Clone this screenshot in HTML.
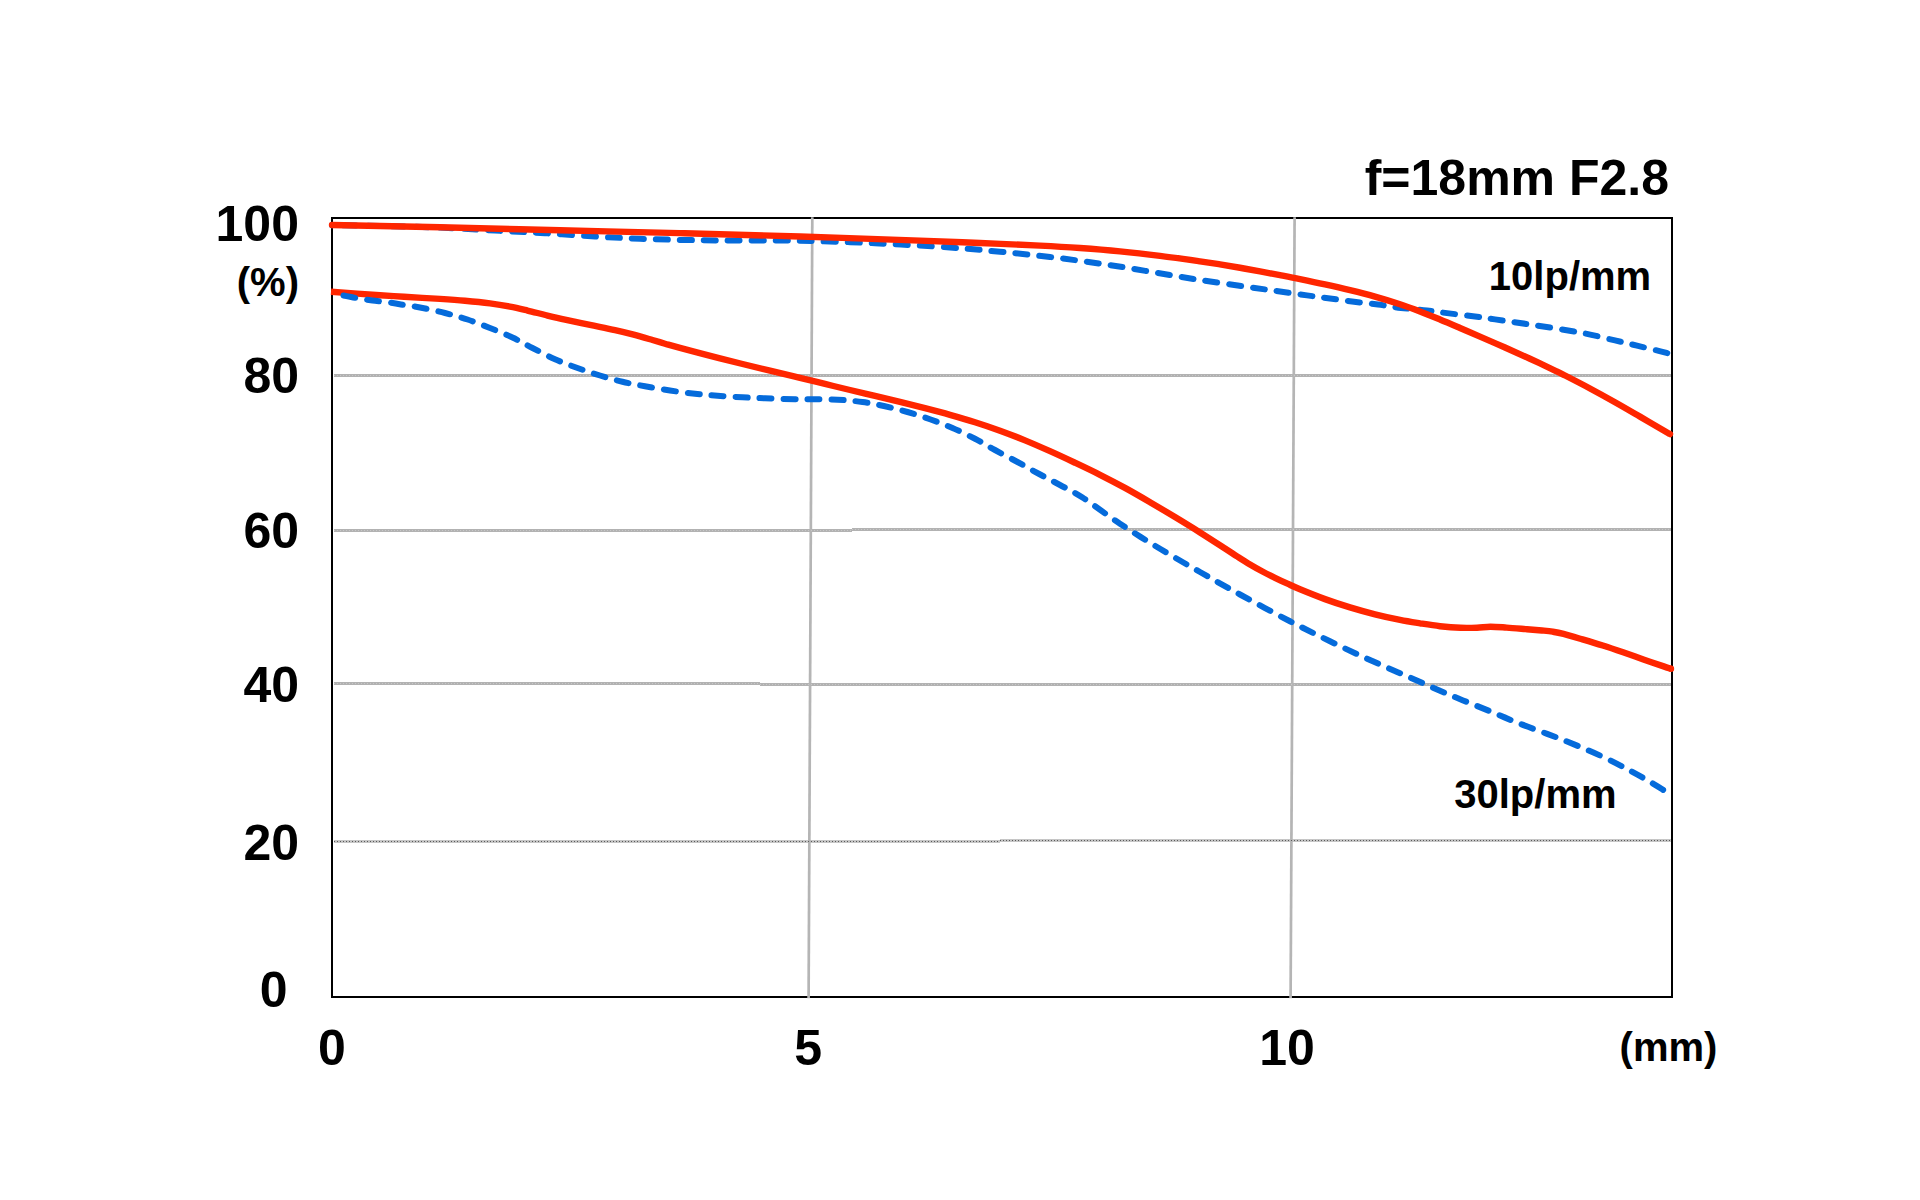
<!DOCTYPE html>
<html lang="en">
<head>
<meta charset="utf-8">
<title>MTF chart f=18mm F2.8</title>
<style>
html,body{margin:0;padding:0;background:#fff;}
body{width:1920px;height:1200px;overflow:hidden;}
svg{display:block;}
text{font-family:"Liberation Sans",Arial,Helvetica,sans-serif;font-weight:bold;fill:#000;}
.grid line{stroke:#b2b2b2;stroke-width:3;}
.dots line{stroke:#c8c8c8;stroke-width:1;stroke-dasharray:1 2;}
.curve path{fill:none;stroke-linecap:round;stroke-linejoin:round;}
.red{stroke:#ff2600;stroke-width:6.4;}
.blue{stroke:#056bdb;stroke-width:6;stroke-dasharray:12 12;}
</style>
</head>
<body>
<svg width="1920" height="1200" viewBox="0 0 1920 1200">
<rect x="0" y="0" width="1920" height="1200" fill="#ffffff"/>
<rect x="332" y="218" width="1340" height="779" fill="none" stroke="#000" stroke-width="2"/>
<g class="grid">
<line x1="334" y1="375.5" x2="1671" y2="375.5"/>
<line x1="334" y1="530.5" x2="852" y2="530.5"/>
<line x1="852" y1="529.5" x2="1671" y2="529.5"/>
<line x1="334" y1="683.5" x2="760" y2="683.5"/>
<line x1="760" y1="684.5" x2="1671" y2="684.5"/>
<line x1="334" y1="841.5" x2="1000" y2="841.5" style="stroke:#c6c6c6"/>
<line x1="1000" y1="840.5" x2="1671" y2="840.5" style="stroke:#c6c6c6"/>
<line x1="812.3" y1="217.3" x2="808.6" y2="998.3" style="stroke-width:2.7;stroke:#b5b5b5"/>
<line x1="1294.6" y1="217.3" x2="1290.6" y2="998.3" style="stroke-width:2.7;stroke:#b5b5b5"/>
</g>
<g class="dots">
<line x1="334" y1="375.5" x2="1671" y2="375.5"/>
<line x1="334" y1="530.5" x2="852" y2="530.5"/>
<line x1="852" y1="529.5" x2="1671" y2="529.5"/>
<line x1="334" y1="683.5" x2="760" y2="683.5"/>
<line x1="760" y1="684.5" x2="1671" y2="684.5"/>
<line x1="334" y1="841.5" x2="1000" y2="841.5" style="stroke:#5a5a5a"/>
<line x1="1000" y1="840.5" x2="1671" y2="840.5" style="stroke:#5a5a5a"/>
</g>
<g class="curve">
<path class="blue" stroke-dashoffset="11.83" d="M332.00,225.20C340.00,225.33 362.00,225.60 380.00,226.00C398.00,226.40 420.83,226.83 440.00,227.60C459.17,228.37 477.50,229.67 495.00,230.60C512.50,231.53 528.33,232.22 545.00,233.20C561.67,234.18 579.17,235.57 595.00,236.50C610.83,237.43 625.00,238.17 640.00,238.75C655.00,239.33 670.00,239.71 685.00,240.00C700.00,240.29 710.83,240.38 730.00,240.50C749.17,240.62 775.83,240.29 800.00,240.75C824.17,241.21 850.00,242.12 875.00,243.25C900.00,244.38 929.17,246.08 950.00,247.50C970.83,248.92 983.33,250.17 1000.00,251.75C1016.67,253.33 1033.33,255.03 1050.00,257.00C1066.67,258.98 1083.33,261.17 1100.00,263.60C1116.67,266.03 1133.33,268.87 1150.00,271.60C1166.67,274.33 1183.33,277.38 1200.00,280.00C1216.67,282.62 1236.67,285.38 1250.00,287.30C1263.33,289.22 1270.50,290.15 1280.00,291.50C1289.50,292.85 1298.67,294.23 1307.00,295.40C1315.33,296.57 1322.17,297.45 1330.00,298.50C1337.83,299.55 1346.00,300.68 1354.00,301.70C1362.00,302.72 1370.17,303.57 1378.00,304.60C1385.83,305.63 1392.83,306.92 1401.00,307.90C1409.17,308.88 1419.00,309.58 1427.00,310.50C1435.00,311.42 1441.33,312.44 1449.00,313.40C1456.67,314.36 1465.33,315.25 1473.00,316.25C1480.67,317.25 1485.50,318.02 1495.00,319.40C1504.50,320.77 1515.83,322.32 1530.00,324.50C1544.17,326.68 1565.83,329.85 1580.00,332.50C1594.17,335.15 1605.33,338.17 1615.00,340.40C1624.67,342.63 1630.25,344.03 1638.00,345.90C1645.75,347.77 1656.62,350.40 1661.50,351.60C1666.38,352.80 1666.33,352.85 1667.30,353.10"/>
<path class="red" d="M332.00,225.00C350.00,225.38 402.00,226.43 440.00,227.30C478.00,228.18 520.00,229.28 560.00,230.25C600.00,231.22 640.00,232.10 680.00,233.12C720.00,234.15 760.00,235.17 800.00,236.43C840.00,237.68 890.00,239.56 920.00,240.65C950.00,241.74 960.00,242.14 980.00,242.98C1000.00,243.81 1023.33,244.80 1040.00,245.65C1056.67,246.50 1066.67,247.10 1080.00,248.05C1093.33,249.00 1106.67,250.07 1120.00,251.38C1133.33,252.68 1146.67,254.20 1160.00,255.85C1173.33,257.50 1190.00,259.88 1200.00,261.30C1210.00,262.72 1213.33,263.30 1220.00,264.38C1226.67,265.45 1233.33,266.60 1240.00,267.77C1246.67,268.95 1253.33,270.17 1260.00,271.40C1266.67,272.63 1273.33,273.87 1280.00,275.15C1286.67,276.43 1292.50,277.53 1300.00,279.07C1307.50,280.61 1316.67,282.52 1325.00,284.38C1333.33,286.23 1341.67,288.13 1350.00,290.18C1358.33,292.22 1366.67,294.30 1375.00,296.65C1383.33,299.00 1392.50,301.79 1400.00,304.25C1407.50,306.72 1413.33,308.91 1420.00,311.45C1426.67,313.99 1433.33,316.74 1440.00,319.49C1446.67,322.24 1453.33,325.10 1460.00,327.95C1466.67,330.80 1472.50,333.33 1480.00,336.58C1487.50,339.84 1496.67,343.80 1505.00,347.50C1513.33,351.20 1521.67,354.93 1530.00,358.77C1538.33,362.62 1549.17,367.77 1555.00,370.55C1560.83,373.33 1559.17,372.50 1565.00,375.48C1570.83,378.46 1581.67,384.00 1590.00,388.45C1598.33,392.90 1606.67,397.51 1615.00,402.20C1623.33,406.89 1631.67,411.78 1640.00,416.61C1648.33,421.45 1660.00,428.30 1665.00,431.22C1670.00,434.13 1669.17,433.62 1670.00,434.10"/>
<path class="red" style="stroke-linecap:butt" d="M331.00,291.70C339.17,292.29 367.83,294.40 380.00,295.25C392.17,296.09 394.00,296.18 404.00,296.79C414.00,297.40 429.83,298.25 440.00,298.92C450.17,299.58 456.67,300.01 465.00,300.76C473.33,301.51 482.50,302.44 490.00,303.42C497.50,304.40 503.75,305.44 510.00,306.62C516.25,307.81 521.46,309.10 527.50,310.53C533.54,311.97 540.00,313.72 546.25,315.24C552.50,316.75 557.71,318.02 565.00,319.63C572.29,321.25 581.67,323.18 590.00,324.94C598.33,326.70 607.71,328.56 615.00,330.19C622.29,331.81 627.50,333.06 633.75,334.70C640.00,336.34 647.29,338.50 652.50,340.00C657.71,341.51 660.42,342.39 665.00,343.72C669.58,345.04 670.83,345.51 680.00,347.96C689.17,350.42 705.00,354.66 720.00,358.44C735.00,362.23 756.67,367.43 770.00,370.66C783.33,373.89 790.83,375.61 800.00,377.83C809.17,380.04 816.67,381.92 825.00,383.95C833.33,385.98 841.67,388.00 850.00,390.00C858.33,392.00 866.67,393.93 875.00,395.92C883.33,397.92 891.67,399.91 900.00,401.95C908.33,403.99 916.67,406.03 925.00,408.18C933.33,410.32 941.67,412.47 950.00,414.80C958.33,417.13 966.67,419.53 975.00,422.18C983.33,424.82 991.67,427.62 1000.00,430.65C1008.33,433.68 1016.67,436.93 1025.00,440.35C1033.33,443.77 1041.67,447.44 1050.00,451.18C1058.33,454.91 1066.67,458.81 1075.00,462.75C1083.33,466.69 1091.67,470.63 1100.00,474.83C1108.33,479.02 1116.67,483.36 1125.00,487.93C1133.33,492.49 1141.67,497.35 1150.00,502.20C1158.33,507.05 1166.67,512.01 1175.00,517.05C1183.33,522.09 1191.67,527.19 1200.00,532.42C1208.33,537.66 1218.75,544.43 1225.00,548.47C1231.25,552.50 1233.33,553.98 1237.50,556.65C1241.67,559.32 1245.83,562.00 1250.00,564.48C1254.17,566.95 1258.33,569.28 1262.50,571.50C1266.67,573.72 1270.83,575.77 1275.00,577.80C1279.17,579.83 1283.33,581.79 1287.50,583.70C1291.67,585.61 1293.75,586.70 1300.00,589.27C1306.25,591.84 1316.67,596.10 1325.00,599.12C1333.33,602.15 1341.67,604.88 1350.00,607.43C1358.33,609.97 1366.67,612.28 1375.00,614.38C1383.33,616.47 1392.50,618.47 1400.00,619.97C1407.50,621.46 1413.33,622.31 1420.00,623.35C1426.67,624.39 1433.23,625.46 1440.00,626.20C1446.77,626.94 1454.43,627.55 1460.60,627.80C1466.77,628.05 1472.03,627.88 1477.00,627.70C1481.97,627.52 1485.45,626.72 1490.40,626.70C1495.35,626.68 1500.83,627.20 1506.70,627.60C1512.57,628.00 1519.72,628.62 1525.60,629.10C1531.48,629.58 1537.48,630.07 1542.00,630.50C1546.52,630.93 1549.12,631.13 1552.70,631.70C1556.28,632.27 1558.53,632.62 1563.50,633.90C1568.47,635.18 1575.95,637.44 1582.50,639.38C1589.05,641.32 1596.03,643.40 1602.80,645.55C1609.57,647.70 1616.33,649.99 1623.10,652.30C1629.87,654.61 1636.63,657.08 1643.40,659.42C1650.17,661.77 1659.10,664.82 1663.70,666.38C1668.30,667.95 1669.78,668.40 1671.00,668.80"/>
<circle cx="1671" cy="668.8" r="3.2" fill="#ff2600"/>
<path class="blue" stroke-dashoffset="14.18" d="M334.00,293.40C335.00,293.63 337.33,294.23 340.00,294.80C342.67,295.37 346.67,296.15 350.00,296.80C353.33,297.45 356.25,298.08 360.00,298.70C363.75,299.32 367.50,299.85 372.50,300.50C377.50,301.15 384.75,301.85 390.00,302.60C395.25,303.35 399.00,304.18 404.00,305.00C409.00,305.82 413.17,306.17 420.00,307.50C426.83,308.83 437.08,311.00 445.00,313.00C452.92,315.00 460.00,317.00 467.50,319.50C475.00,322.00 482.50,325.00 490.00,328.00C497.50,331.00 505.42,334.17 512.50,337.50C519.58,340.83 525.42,344.38 532.50,348.00C539.58,351.62 547.50,355.92 555.00,359.25C562.50,362.58 570.00,365.29 577.50,368.00C585.00,370.71 592.50,373.21 600.00,375.50C607.50,377.79 615.00,379.96 622.50,381.75C630.00,383.54 637.08,384.79 645.00,386.25C652.92,387.71 661.67,389.25 670.00,390.50C678.33,391.75 687.08,392.88 695.00,393.75C702.92,394.62 709.58,395.17 717.50,395.75C725.42,396.33 734.58,396.83 742.50,397.25C750.42,397.67 756.25,397.92 765.00,398.25C773.75,398.58 787.92,399.08 795.00,399.25C802.08,399.42 800.42,399.17 807.50,399.25C814.58,399.33 828.33,399.29 837.50,399.75C846.67,400.21 854.58,400.92 862.50,402.00C870.42,403.08 877.50,404.58 885.00,406.25C892.50,407.92 900.00,409.83 907.50,412.00C915.00,414.17 922.50,416.58 930.00,419.25C937.50,421.92 945.00,424.75 952.50,428.00C960.00,431.25 967.92,435.08 975.00,438.75C982.08,442.42 987.92,446.12 995.00,450.00C1002.08,453.88 1010.21,458.04 1017.50,462.00C1024.79,465.96 1031.67,469.92 1038.75,473.75C1045.83,477.58 1052.71,481.04 1060.00,485.00C1067.29,488.96 1072.50,491.04 1082.50,497.50C1092.50,503.96 1107.08,515.21 1120.00,523.75C1132.92,532.29 1146.67,540.71 1160.00,548.75C1173.33,556.79 1186.67,564.38 1200.00,572.00C1213.33,579.62 1225.00,586.29 1240.00,594.50C1255.00,602.71 1275.00,613.46 1290.00,621.25C1305.00,629.04 1316.67,634.79 1330.00,641.25C1343.33,647.71 1356.67,653.96 1370.00,660.00C1383.33,666.04 1396.67,671.67 1410.00,677.50C1423.33,683.33 1436.67,689.38 1450.00,695.00C1463.33,700.62 1478.33,706.46 1490.00,711.25C1501.67,716.04 1508.33,719.17 1520.00,723.75C1531.67,728.33 1546.67,733.46 1560.00,738.75C1573.33,744.04 1588.17,750.09 1600.00,755.50C1611.83,760.91 1622.17,766.52 1631.00,771.20C1639.83,775.88 1647.57,780.43 1653.00,783.60C1658.43,786.77 1661.83,789.10 1663.60,790.20"/>
</g>
<g>
<text x="1669" y="195" font-size="50" text-anchor="end">f=18mm F2.8</text>
<text x="299" y="241.3" font-size="50" text-anchor="end">100</text>
<text x="299" y="295.8" font-size="40" text-anchor="end">(%)</text>
<text x="299" y="393.2" font-size="50" text-anchor="end">80</text>
<text x="299" y="548" font-size="50" text-anchor="end">60</text>
<text x="299" y="702" font-size="50" text-anchor="end">40</text>
<text x="299" y="859.5" font-size="50" text-anchor="end">20</text>
<text x="273.7" y="1007.3" font-size="50" text-anchor="middle">0</text>
<text x="331.9" y="1065.3" font-size="50" text-anchor="middle">0</text>
<text x="808.1" y="1065.3" font-size="50" text-anchor="middle">5</text>
<text x="1287" y="1065.3" font-size="50" text-anchor="middle">10</text>
<text x="1668.5" y="1061" font-size="40" text-anchor="middle">(mm)</text>
<text x="1570" y="289.5" font-size="40" text-anchor="middle">10lp/mm</text>
<text x="1535.4" y="807.5" font-size="40" text-anchor="middle">30lp/mm</text>
</g>
</svg>
</body>
</html>
